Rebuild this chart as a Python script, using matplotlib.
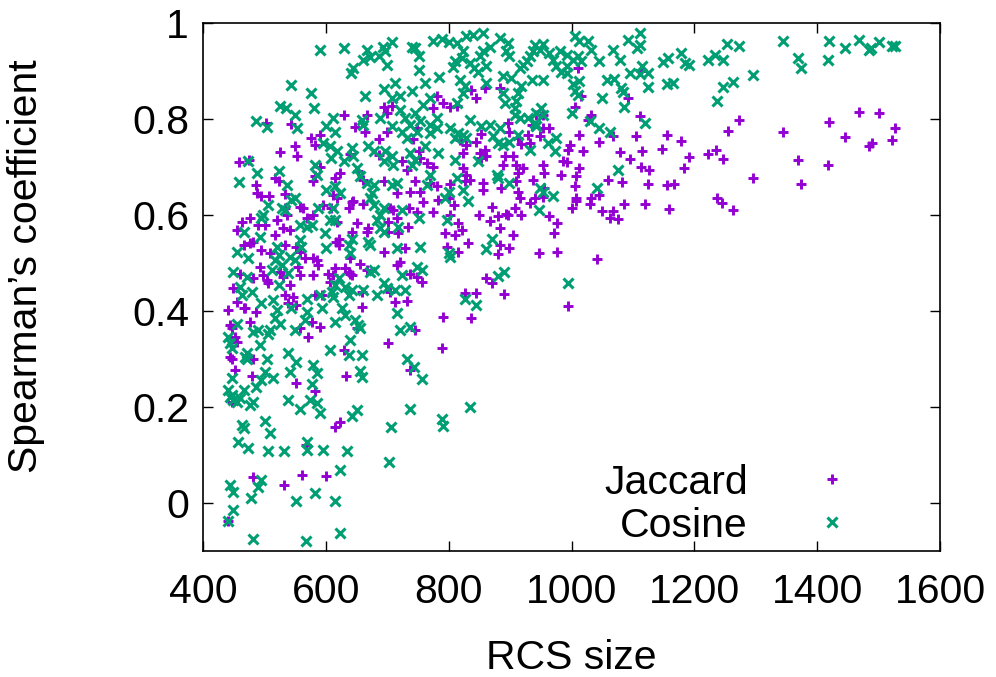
import matplotlib
matplotlib.use("Agg")
import matplotlib.pyplot as plt
from matplotlib.ticker import FuncFormatter

plt.rcParams['font.family'] = ['Liberation Sans', 'DejaVu Sans']

# values (RCS size, Spearman's coefficient)
jaccard_x = [503, 544, 576, 591, 582, 549, 525, 553, 459, 475, 591, 517, 523, 579, 582, 487, 488, 495, 508, 533,
             629, 667, 664, 648, 694, 707, 699, 781, 774, 791, 802, 813, 687, 700, 742, 749, 640, 686, 724, 732,
             751, 754, 764, 775, 623, 615, 653, 661, 694, 745, 770, 781, 737, 753, 716, 612, 644, 802, 800,
             837, 845, 859, 883, 1016, 1005, 1011, 943, 954, 935, 954, 964, 897, 899, 1032, 1027, 1013, 853, 845,
             829, 818, 913, 929, 932, 918, 948, 997, 994, 1019, 851, 859, 861, 853, 891, 905, 889, 823, 823,
             954, 956, 986, 992, 910, 913, 921, 1013, 1008, 983, 829, 834, 826, 856, 856, 886, 910, 913, 916,
             937, 940, 1005, 1008, 1032, 956,
             476, 463, 455, 490, 501, 520, 536, 533, 558, 563, 569, 579, 596, 609, 531, 541, 517, 466, 476, 482,
             495, 509, 533, 552, 558, 566, 579, 588, 585, 617, 493, 498, 504, 506, 460, 482, 525, 531, 541, 555,
             558, 579, 604, 612, 449, 455, 466, 441, 468, 533, 547, 582, 593, 539, 552, 487, 444, 447, 476, 577,
             590, 558, 452, 455, 447, 444, 482, 452, 571,
             618, 642, 661, 637, 705, 710, 735, 748, 759, 775, 783, 808, 802, 618, 650, 702, 716, 669, 667, 702,
             718, 734, 816, 642, 794, 810, 621, 621, 694, 729, 797, 816, 640, 656, 615, 631, 637, 642, 640, 667,
             716, 721, 737, 748, 756, 607, 705, 659, 713, 732, 659, 791, 650, 745, 702, 789, 629,
             932, 954, 870, 849, 880, 894, 897, 908, 918, 868, 963, 976, 1008, 1000, 1030, 822, 883, 904, 972,
             832, 883, 899, 880, 947, 976, 861, 870, 826, 845, 890, 837, 994,
             479, 552, 582, 615, 623, 567, 447, 482, 532, 562, 601, 441, 633, 737,
             1113, 1092, 1111, 1068, 1045, 1105, 1156, 1178, 1079, 1095, 1114, 1148, 1192, 1222, 1235, 1247,
             1254, 1272, 1345, 1113, 1126, 1183, 1059, 1083, 1125, 1155, 1167, 1296, 1045, 1237, 1245, 1263,
             1049, 1062, 1068, 1076, 1086, 1120, 1158, 1041,
             1468, 1500, 1419, 1526, 1522, 1446, 1484, 1489, 1369, 1418, 1373]
jaccard_y = [0.792, 0.790, 0.760, 0.767, 0.746, 0.744, 0.731, 0.722, 0.710, 0.715, 0.701, 0.677, 0.670, 0.670,
             0.681, 0.663, 0.646, 0.639, 0.639, 0.644,
             0.809, 0.809, 0.774, 0.783, 0.826, 0.828, 0.812, 0.849, 0.824, 0.833, 0.826, 0.828, 0.759, 0.773,
             0.759, 0.781, 0.727, 0.726, 0.712, 0.694, 0.733, 0.719, 0.708, 0.701, 0.687, 0.677, 0.691, 0.672,
             0.670, 0.670, 0.667, 0.660, 0.649, 0.649, 0.646, 0.642, 0.630, 0.665, 0.635,
             0.861, 0.844, 0.865, 0.865, 0.847, 0.826, 0.906, 0.809, 0.809, 0.788, 0.781, 0.781, 0.792, 0.774,
             0.809, 0.799, 0.767, 0.769, 0.753, 0.746, 0.757, 0.760, 0.767, 0.750, 0.748, 0.764, 0.746, 0.736,
             0.734, 0.729, 0.736, 0.722, 0.719, 0.722, 0.722, 0.705, 0.729, 0.698, 0.705, 0.687, 0.712, 0.710,
             0.705, 0.687, 0.698, 0.698, 0.681, 0.684, 0.684, 0.674, 0.670, 0.667, 0.653, 0.656, 0.670, 0.649,
             0.635, 0.674, 0.635, 0.660, 0.635, 0.635, 0.656,
             0.593, 0.586, 0.569, 0.579, 0.579, 0.590, 0.600, 0.614, 0.617, 0.614, 0.593, 0.600, 0.621, 0.614,
             0.572, 0.569, 0.558, 0.538, 0.541, 0.544, 0.527, 0.520, 0.537, 0.534, 0.524, 0.510, 0.510, 0.496,
             0.506, 0.544, 0.492, 0.475, 0.465, 0.458, 0.478, 0.468, 0.482, 0.471, 0.454, 0.492, 0.475, 0.475,
             0.478, 0.475, 0.447, 0.419, 0.406, 0.402, 0.406, 0.433, 0.430, 0.433, 0.433, 0.416, 0.412, 0.399,
             0.371, 0.364, 0.378, 0.378, 0.367, 0.364, 0.346, 0.336, 0.301, 0.305, 0.301, 0.277, 0.346,
             0.635, 0.628, 0.624, 0.614, 0.614, 0.610, 0.614, 0.607, 0.628, 0.607, 0.631, 0.621, 0.600, 0.586,
             0.583, 0.586, 0.593, 0.572, 0.565, 0.565, 0.562, 0.576, 0.583, 0.565, 0.562, 0.558, 0.551, 0.537,
             0.524, 0.531, 0.534, 0.524, 0.510, 0.499, 0.489, 0.489, 0.482, 0.475, 0.478, 0.485, 0.496, 0.503,
             0.478, 0.471, 0.461, 0.461, 0.440, 0.440, 0.419, 0.421, 0.409, 0.388, 0.364, 0.360, 0.333, 0.322,
             0.319,
             0.626, 0.638, 0.617, 0.600, 0.597, 0.603, 0.601, 0.614, 0.600, 0.588, 0.597, 0.583, 0.629, 0.614,
             0.624, 0.569, 0.572, 0.558, 0.562, 0.541, 0.537, 0.532, 0.518, 0.520, 0.524, 0.468, 0.458, 0.437,
             0.437, 0.435, 0.386, 0.410,
             0.265, 0.251, 0.234, 0.159, 0.169, 0.121, 0.211, 0.055, 0.037, 0.058, 0.056, -0.037, 0.265, 0.277,
             0.901, 0.844, 0.806, 0.764, 0.752, 0.764, 0.766, 0.755, 0.731, 0.717, 0.733, 0.738, 0.720, 0.727,
             0.736, 0.717, 0.776, 0.797, 0.774, 0.701, 0.694, 0.698, 0.674, 0.668, 0.665, 0.662, 0.665, 0.678,
             0.641, 0.635, 0.625, 0.610, 0.608, 0.594, 0.608, 0.592, 0.624, 0.623, 0.613, 0.509,
             0.814, 0.812, 0.793, 0.781, 0.757, 0.762, 0.743, 0.751, 0.714, 0.704, 0.665]

cosine_x = [591, 544, 576, 525, 535, 581, 549, 487, 505, 553, 474, 488, 459, 524, 537, 600, 596, 609, 582, 585,
            600, 549,
            630, 667, 661, 672, 693, 707, 697, 686, 700, 645, 641, 745, 752, 740, 775, 789, 800, 813, 751, 810,
            821, 807, 761, 784, 713, 694, 740, 664, 707, 721, 612, 615, 659, 661, 688, 721, 729, 745, 759, 770,
            707, 737, 753, 770, 781, 748, 770, 781, 724, 732, 813, 802, 810, 816, 607, 618, 642, 645, 629, 669,
            678, 697, 707, 710, 694, 737, 745, 740, 762, 783, 810, 650, 656, 678, 675, 667, 707, 716, 770, 764,
            800, 813, 615, 623,
            840, 856, 829, 883, 897, 867, 856, 851, 894, 898, 940, 954, 937, 948, 932, 927, 921, 916, 964, 970,
            981, 992, 1005, 1013, 1027, 1032, 1011, 1016, 1002, 975, 983, 992, 992, 823, 834, 842, 848, 861, 818,
            826, 823, 861, 889, 902, 935, 954, 918, 889, 891, 913, 910, 908, 1002, 1005, 1011, 1013, 951, 954,
            943, 908, 916, 929, 1000, 834, 853, 867, 883, 872, 880, 889, 899, 940, 943, 913, 932, 962, 975, 973,
            1030, 823, 829, 848, 878, 880, 899, 948, 954, 970, 823,
            506, 498, 495, 533, 528, 544, 558, 569, 577, 588, 598, 607, 615, 520, 523, 528, 517, 558, 560, 493,
            466, 455, 474, 541, 550, 601, 449, 471, 512, 539, 523, 460, 463, 479, 495, 514, 520, 517, 525, 544,
            569, 569, 566, 590, 593, 612, 615, 455, 482, 490, 506, 509, 441, 447, 444, 471, 471, 468, 493, 504,
            539, 550, 552, 541, 579, 607, 501,
            672, 678, 688, 683, 612, 694, 724, 751, 794, 797, 688, 694, 718, 642, 637, 640, 669, 672, 716, 753,
            800, 802, 672, 678, 724, 748, 756, 621, 615, 610, 631, 642, 637, 661, 683, 694, 699, 713, 729, 626,
            631, 648, 653, 656, 716, 721, 737, 640, 637, 659, 732, 743, 656,
            832, 947, 870, 861, 880, 890, 826, 844, 995,
            447, 441, 447, 449, 455, 444, 460, 466, 476, 482, 487, 495, 514, 539, 558, 574, 585, 590, 585, 577,
            463, 466, 501, 509, 457, 474, 506, 532, 569, 569, 596, 444, 449, 495, 490, 478, 552, 582, 615, 449,
            441, 482, 568, 623, 623,
            659, 756, 650, 642, 706, 737, 789, 790, 835, 634, 703,
            1112, 1092, 1106, 1111, 1068, 1079, 1045, 1095, 1114, 1125, 1111, 1057, 1069, 1081, 1084, 1085, 1049,
            1125, 1149, 1157, 1178, 1184, 1192, 1156, 1166, 1222, 1234, 1247, 1253, 1272, 1246, 1263, 1237, 1296,
            1345, 1119, 1045, 1062, 1076, 1041,
            1369, 1373, 1419, 1418, 1446, 1468, 1484, 1488, 1500, 1521, 1526]
cosine_y = [0.944, 0.870, 0.854, 0.828, 0.824, 0.824, 0.809, 0.795, 0.783, 0.781, 0.712, 0.687, 0.669, 0.691,
            0.663, 0.785, 0.750, 0.719, 0.705, 0.684, 0.653, 0.635,
            0.948, 0.943, 0.924, 0.929, 0.951, 0.960, 0.941, 0.931, 0.913, 0.906, 0.896, 0.949, 0.931, 0.951,
            0.962, 0.966, 0.960, 0.958, 0.903, 0.920, 0.927, 0.908, 0.876, 0.887, 0.875, 0.863, 0.859, 0.847,
            0.844, 0.847, 0.802, 0.774, 0.799, 0.788, 0.802, 0.819, 0.802, 0.813, 0.830, 0.844, 0.785, 0.788,
            0.795, 0.788, 0.802, 0.774, 0.771, 0.781, 0.774, 0.760, 0.833, 0.781, 0.760, 0.771, 0.743, 0.733,
            0.740, 0.722, 0.712, 0.743, 0.733, 0.733, 0.722, 0.705, 0.712, 0.729, 0.715, 0.705, 0.743, 0.729,
            0.715, 0.698, 0.681, 0.663, 0.646, 0.667, 0.663, 0.667, 0.684, 0.663, 0.649, 0.677, 0.660, 0.646,
            0.976, 0.979, 0.972, 0.969, 0.958, 0.951, 0.941, 0.931, 0.941, 0.931, 0.955, 0.956, 0.941, 0.944,
            0.931, 0.920, 0.913, 0.906, 0.937, 0.924, 0.941, 0.934, 0.972, 0.962, 0.962, 0.944, 0.931, 0.920,
            0.924, 0.910, 0.899, 0.896, 0.910, 0.941, 0.917, 0.906, 0.899, 0.910, 0.882, 0.868, 0.854, 0.875,
            0.889, 0.885, 0.882, 0.882, 0.868, 0.854, 0.833, 0.854, 0.837, 0.823, 0.872, 0.858, 0.851, 0.879,
            0.823, 0.809, 0.813, 0.809, 0.802, 0.802, 0.813, 0.799, 0.785, 0.788, 0.781, 0.764, 0.750, 0.746,
            0.753, 0.792, 0.785, 0.767, 0.736, 0.750, 0.760, 0.733, 0.795, 0.767, 0.760, 0.712, 0.684, 0.677,
            0.667, 0.656, 0.649, 0.639, 0.653,
            0.621, 0.600, 0.593, 0.610, 0.614, 0.631, 0.579, 0.576, 0.579, 0.614, 0.562, 0.590, 0.590, 0.534,
            0.517, 0.496, 0.506, 0.548, 0.534, 0.555, 0.565, 0.524, 0.510, 0.513, 0.506, 0.531, 0.482, 0.471,
            0.485, 0.479, 0.454, 0.451, 0.433, 0.440, 0.416, 0.423, 0.402, 0.385, 0.374, 0.406, 0.426, 0.399,
            0.381, 0.433, 0.406, 0.430, 0.378, 0.374, 0.357, 0.360, 0.353, 0.360, 0.346, 0.322, 0.333, 0.312,
            0.301, 0.305, 0.329, 0.301, 0.312, 0.360, 0.294, 0.274, 0.287, 0.319, 0.274,
            0.635, 0.621, 0.600, 0.590, 0.614, 0.614, 0.610, 0.593, 0.635, 0.590, 0.572, 0.565, 0.576, 0.551,
            0.537, 0.520, 0.544, 0.537, 0.531, 0.534, 0.520, 0.513, 0.482, 0.485, 0.475, 0.492, 0.485, 0.468,
            0.454, 0.440, 0.451, 0.444, 0.433, 0.444, 0.433, 0.458, 0.447, 0.444, 0.444, 0.406, 0.392, 0.381,
            0.371, 0.364, 0.395, 0.360, 0.367, 0.340, 0.308, 0.308, 0.301, 0.284, 0.275,
            0.629, 0.610, 0.551, 0.529, 0.472, 0.481, 0.425, 0.412, 0.458,
            0.260, 0.236, 0.225, 0.215, 0.211, 0.222, 0.218, 0.236, 0.204, 0.211, 0.242, 0.256, 0.260, 0.215,
            0.195, 0.215, 0.208, 0.187, 0.270, 0.249, 0.162, 0.156, 0.172, 0.147, 0.128, 0.114, 0.109, 0.109,
            0.128, 0.111, 0.111, 0.038, 0.024, 0.048, 0.034, 0.010, 0.004, 0.022, 0.004, -0.015, -0.037, -0.074,
            -0.079, 0.069, -0.063,
            0.262, 0.258, 0.194, 0.181, 0.159, 0.195, 0.176, 0.160, 0.201, 0.108, 0.086,
            0.979, 0.965, 0.948, 0.955, 0.944, 0.924, 0.920, 0.896, 0.910, 0.896, 0.894, 0.882, 0.883, 0.865,
            0.856, 0.826, 0.844, 0.867, 0.918, 0.927, 0.937, 0.917, 0.913, 0.873, 0.875, 0.924, 0.934, 0.924,
            0.956, 0.953, 0.866, 0.877, 0.837, 0.892, 0.962, 0.792, 0.781, 0.774, 0.694, 0.656,
            0.927, 0.906, 0.962, 0.922, 0.949, 0.965, 0.944, 0.948, 0.960, 0.953, 0.953]

x_ticks = [400, 600, 800, 1000, 1200, 1400, 1600]
y_ticks = [0, 0.2, 0.4, 0.6, 0.8, 1]

fig = plt.figure(figsize=(9.96, 6.77), dpi=100)
ax = fig.add_axes([0.2038, 0.186, 0.74, 0.780])

ax.plot(jaccard_x, jaccard_y, linestyle='none', marker='+', markersize=7, mew=2.1,
        color='#9400d3', label='Jaccard')
ax.plot(cosine_x, cosine_y, linestyle='none', marker='x', markersize=6.6, mew=2.2,
        color='#009e73', label='Cosine')

ax.set_xlim(400, 1600)
ax.set_ylim(-0.1, 1)
ax.set_xticks(x_ticks)
ax.set_yticks(y_ticks)
ax.yaxis.set_major_formatter(FuncFormatter(lambda v, p: '%g' % v))
ax.tick_params(direction='in', length=7, width=1, top=True, right=True, labelsize=29.5)
ax.tick_params(axis='x', pad=16)
ax.tick_params(axis='y', pad=10)
for s in ax.spines.values():
    s.set_linewidth(1.2)

ax.set_xlabel('RCS size', fontsize=29.5, labelpad=20)
ax.set_ylabel('Spearman\u2019s coefficient', fontsize=29.5)
ax.yaxis.set_label_coords(-0.215, 0.54)

ax.legend(loc='lower right', bbox_to_anchor=(0.881, 0.012), markerfirst=False, frameon=False,
          fontsize=29.5, handlelength=1.0, handletextpad=1.55, labelspacing=0.12,
          borderpad=0, borderaxespad=0)

fig.savefig('out.png', dpi=100)
